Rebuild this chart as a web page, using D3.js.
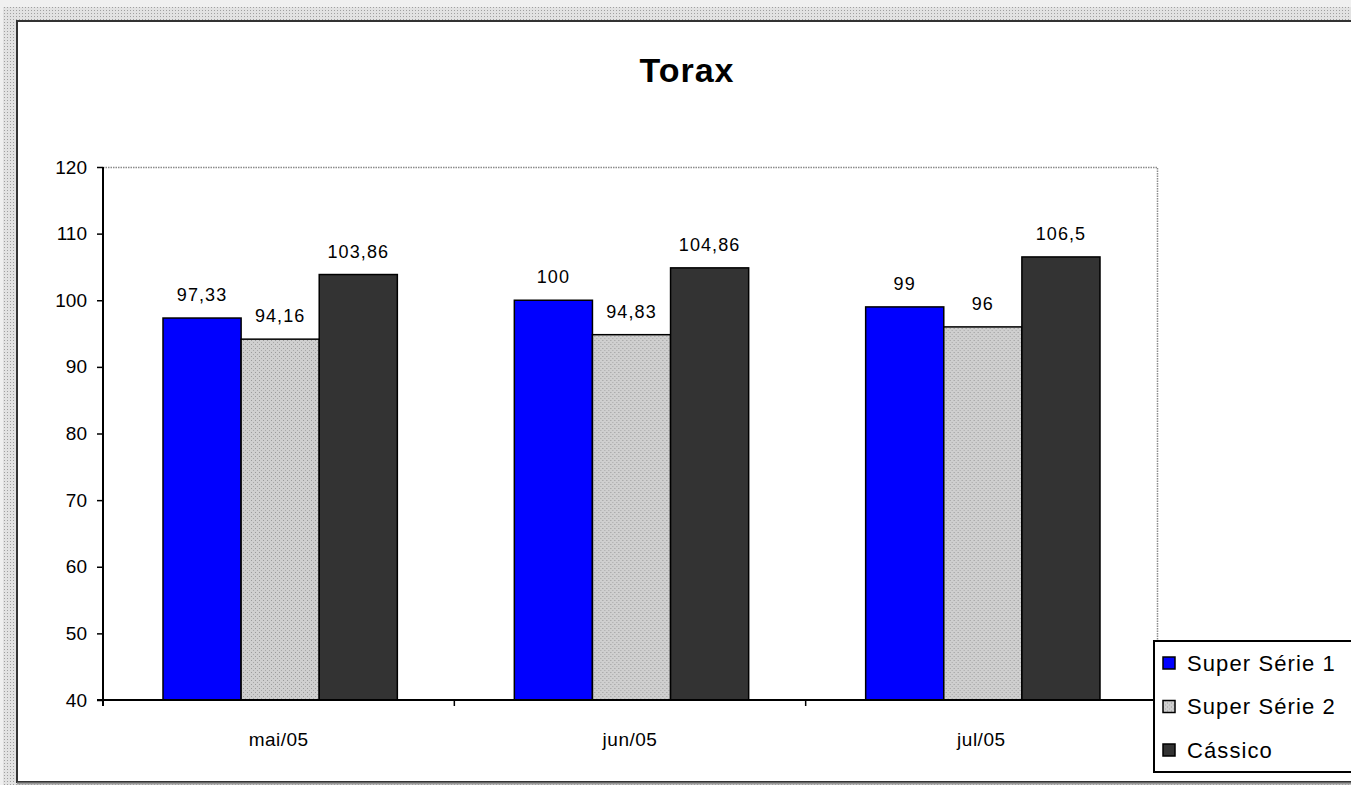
<!DOCTYPE html>
<html>
<head>
<meta charset="utf-8">
<script src="https://cdn.jsdelivr.net/npm/d3@7"></script>
<style>
  html, body { margin: 0; padding: 0; background: #ffffff; overflow: hidden; }
  svg { display: block; font-family: "Liberation Sans", Arial, sans-serif; }
</style>
</head>
<body>
<svg id="chart" width="1351" height="785"></svg>
<script>
// Chest measurements per month for each series
const categories = ["mai/05", "jun/05", "jul/05"];
const seriesNames = ["Super Série 1", "Super Série 2", "Cássico"];
const superSerie1 = [97.33, 100, 99];
const superSerie2 = [94.16, 94.83, 96];
const cassico = [103.86, 104.86, 106.5];
const valueLabels = [["97,33", "100", "99"], ["94,16", "94,83", "96"], ["103,86", "104,86", "106,5"]];
const yTicks = [40, 50, 60, 70, 80, 90, 100, 110, 120];
const chartTitle = "Torax";

const seriesValues = [superSerie1, superSerie2, cassico];

const svg = d3.select("#chart");
const defs = svg.append("defs");

// speckled light grey fill
const speck = defs.append("pattern").attr("id", "speck")
  .attr("patternUnits", "userSpaceOnUse").attr("width", 4).attr("height", 4);
speck.append("rect").attr("width", 4).attr("height", 4).attr("fill", "#cfcfcf");
speck.append("rect").attr("x", 0).attr("y", 0).attr("width", 1).attr("height", 1).attr("fill", "#9a9a9a");
speck.append("rect").attr("x", 2).attr("y", 2).attr("width", 1).attr("height", 1).attr("fill", "#a8a8a8");

// frame texture around the chart
const frame = defs.append("pattern").attr("id", "frame")
  .attr("patternUnits", "userSpaceOnUse").attr("width", 3).attr("height", 3);
frame.append("rect").attr("width", 3).attr("height", 3).attr("fill", "#e2e2e2");
frame.append("rect").attr("x", 1).attr("y", 1).attr("width", 1).attr("height", 1).attr("fill", "#a0a0a0");

const colors = ["#0000ff", "url(#speck)", "#333333"];

// outer frame
svg.append("rect").attr("x", 0).attr("y", 0).attr("width", 1351).attr("height", 785).attr("fill", "#f0f0f0");
svg.append("rect").attr("x", 3).attr("y", 7).attr("width", 1348).attr("height", 778).attr("fill", "url(#frame)");
svg.append("rect").attr("x", 17).attr("y", 21).attr("width", 1340).attr("height", 761)
  .attr("fill", "#ffffff").attr("stroke", "#333").attr("stroke-width", 2);
svg.append("line").attr("x1", 17).attr("x2", 1351).attr("y1", 783.5).attr("y2", 783.5)
  .attr("stroke", "#999").attr("stroke-width", 2);

// plot area
const plot = { left: 103, top: 167, right: 1157, bottom: 700 };

const x0 = d3.scaleBand().domain(categories).range([plot.left, plot.right]).paddingInner(0.333).paddingOuter(0.1665);
const x1 = d3.scaleBand().domain(d3.range(seriesNames.length)).range([0, x0.bandwidth()]);
const y = d3.scaleLinear().domain([40, 120]).range([plot.bottom, plot.top]);

// plot area border (dotted top and right)
svg.append("path")
  .attr("d", `M${plot.left},${plot.top + 0.5}H${plot.right + 0.5}V${plot.bottom}`)
  .attr("fill", "none").attr("stroke", "#8a8a8a").attr("stroke-width", 1.5).attr("stroke-dasharray", "1.5,1");

// bars
const groups = svg.append("g").selectAll("g").data(categories).join("g")
  .attr("transform", d => `translate(${x0(d) + 1.5},0)`);
const cells = (c, ci) => seriesValues.map((vals, si) => ({ si, v: vals[ci], label: valueLabels[si][ci] }));
groups.selectAll("rect")
  .data(cells)
  .join("rect")
  .attr("x", d => x1(d.si))
  .attr("y", d => y(d.v))
  .attr("width", x1.bandwidth())
  .attr("height", d => y(40) - y(d.v))
  .attr("fill", d => colors[d.si])
  .attr("stroke", "#000").attr("stroke-width", 1.5);

groups.selectAll("text")
  .data(cells)
  .join("text")
  .attr("x", d => x1(d.si) + x1.bandwidth() / 2)
  .attr("y", d => y(d.v) - 17)
  .attr("text-anchor", "middle")
  .attr("font-size", 18).attr("letter-spacing", 1.1).attr("fill", "#000")
  .text(d => d.label);

// y axis
const yAxis = svg.append("g").attr("transform", `translate(${plot.left},0)`)
  .call(d3.axisLeft(y).tickValues(yTicks).tickSize(6).tickPadding(10).tickFormat(d3.format("d")));
yAxis.select(".domain").attr("stroke", "#000").attr("stroke-width", 2).attr("d", `M0,${plot.top}V${plot.bottom + 6}`);
yAxis.selectAll(".tick line").attr("stroke", "#000").attr("stroke-width", 1.5);
yAxis.selectAll(".tick text").attr("font-size", 19).attr("fill", "#000")
  .attr("font-family", "Liberation Sans, Arial, sans-serif");

// x axis with ticks on category boundaries
const xAxis = svg.append("g").attr("transform", `translate(0,${plot.bottom})`);
xAxis.append("line").attr("x1", plot.left - 6).attr("x2", plot.right).attr("y1", 0).attr("y2", 0)
  .attr("stroke", "#000").attr("stroke-width", 2);
const bounds = [plot.left, ...categories.map(c => x0(c) + x0.bandwidth() + x0.step() * x0.paddingInner() / 2)];
bounds[bounds.length - 1] = plot.right;
xAxis.selectAll("line.tk").data(bounds).join("line").attr("class", "tk")
  .attr("x1", d => d).attr("x2", d => d).attr("y1", 0).attr("y2", 6)
  .attr("stroke", "#000").attr("stroke-width", 1.5);
xAxis.selectAll("text").data(categories).join("text")
  .attr("x", d => x0(d) + x0.bandwidth() / 2)
  .attr("y", 46)
  .attr("text-anchor", "middle").attr("font-size", 19).attr("letter-spacing", 0.5).attr("fill", "#000")
  .text(d => d);

// title
svg.append("text").attr("x", 687).attr("y", 82).attr("text-anchor", "middle")
  .attr("font-size", 34).attr("letter-spacing", 1).attr("font-weight", "bold").attr("fill", "#000").text(chartTitle);

// legend
const legend = svg.append("g").attr("transform", "translate(1154,641)");
legend.append("rect").attr("x", 0).attr("y", 0).attr("width", 210).attr("height", 131)
  .attr("fill", "#fff").attr("stroke", "#000").attr("stroke-width", 2);
const items = legend.selectAll("g").data(seriesNames).join("g")
  .attr("transform", (d, i) => `translate(9,${22 + i * 43.5})`);
items.append("rect").attr("x", 0).attr("y", -6).attr("width", 12).attr("height", 12)
  .attr("fill", (d, i) => colors[i]).attr("stroke", "#000").attr("stroke-width", 1.5);
items.append("text").attr("x", 24).attr("y", 7.5).attr("font-size", 22).attr("letter-spacing", 1.1)
  .attr("fill", "#000").text(d => d);
</script>
</body>
</html>
